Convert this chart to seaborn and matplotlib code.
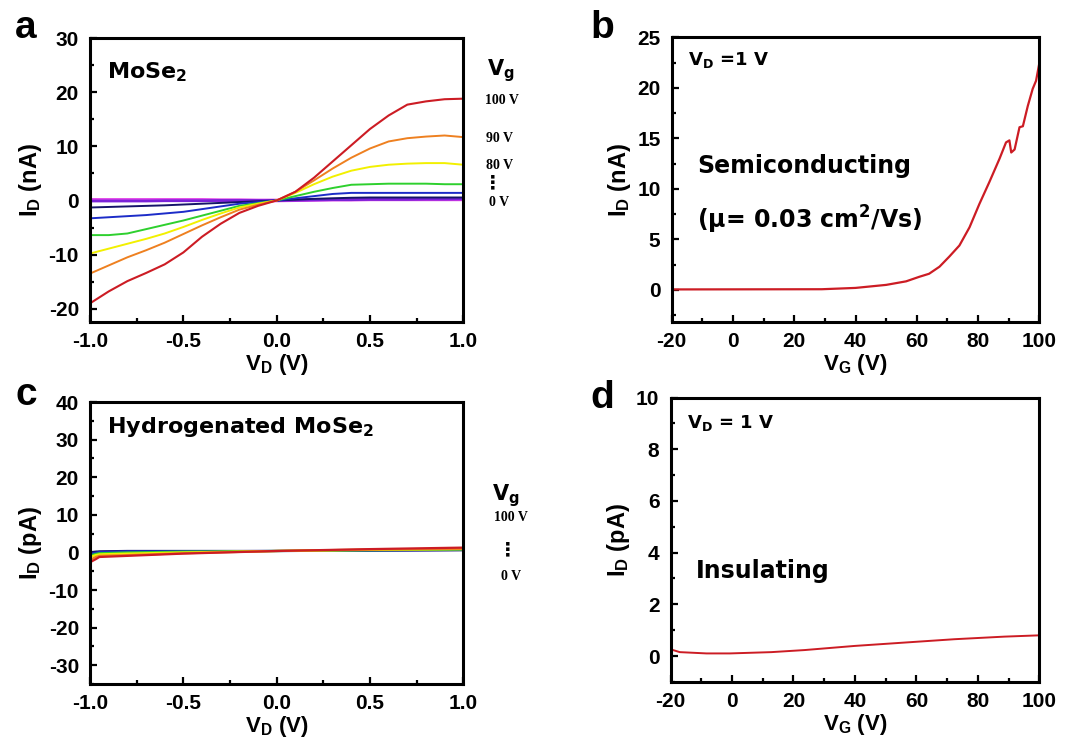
import matplotlib
matplotlib.use("Agg")
import matplotlib.pyplot as plt
from matplotlib.ticker import MultipleLocator
import seaborn as sns

# ---- data ----
# panel a: I-V curves of MoSe2 at several gate voltages (nA)
vd_a = [-1.0, -0.9, -0.8, -0.7, -0.6, -0.5, -0.4, -0.3, -0.2, -0.1, 0.0,
        0.1, 0.2, 0.3, 0.4, 0.5, 0.6, 0.7, 0.8, 0.9, 1.0]
id_a_magenta = [0.1, 0.1, 0.1, 0.1, 0.1, 0.1, 0.1, 0.05, 0.05, 0.0, 0.0,
                0.05, 0.1, 0.15, 0.15, 0.2, 0.2, 0.2, 0.2, 0.2, 0.2]
id_a_purple = [-0.1, -0.1, -0.1, -0.1, -0.05, -0.05, -0.05, 0.0, 0.0, 0.0, 0.0,
               0.05, 0.1, 0.15, 0.15, 0.2, 0.2, 0.2, 0.25, 0.25, 0.3]
id_a_navy = [-1.3, -1.2, -1.1, -1.0, -0.9, -0.75, -0.6, -0.45, -0.3, -0.15, 0.0,
             0.15, 0.3, 0.4, 0.5, 0.55, 0.55, 0.55, 0.55, 0.55, 0.55]
id_a_blue = [-3.3, -3.1, -2.9, -2.7, -2.4, -2.1, -1.6, -1.1, -0.6, -0.3, 0.0,
             0.4, 0.8, 1.2, 1.4, 1.4, 1.4, 1.4, 1.4, 1.4, 1.4]
id_a_green = [-6.4, -6.4, -6.1, -5.3, -4.5, -3.7, -2.8, -1.9, -1.0, -0.5, 0.0,
              0.8, 1.6, 2.3, 2.9, 3.0, 3.1, 3.1, 3.1, 3.0, 3.0]
id_a_yellow = [-9.8, -8.9, -8.0, -7.1, -6.1, -4.9, -3.6, -2.4, -1.3, -0.6, 0.0,
               1.4, 3.0, 4.4, 5.5, 6.2, 6.6, 6.8, 6.9, 6.9, 6.6]
id_a_orange = [-13.5, -12.0, -10.5, -9.2, -7.8, -6.2, -4.6, -3.1, -1.7, -0.8, 0.0,
               1.6, 3.7, 5.9, 7.9, 9.6, 10.9, 11.5, 11.8, 12.0, 11.7]
id_a_red = [-19.0, -16.8, -14.9, -13.4, -11.8, -9.6, -6.7, -4.3, -2.3, -1.0, 0.0,
            1.6, 4.2, 7.2, 10.2, 13.2, 15.7, 17.7, 18.3, 18.7, 18.8]

# panel b: transfer curve of MoSe2, V_D = 1 V (nA)
vg_b = [-20, 29, 40, 50, 56.5, 60.8, 64, 67.4, 70.6, 73.9, 77.2, 80.4, 83.7, 87,
        89.1, 90.2, 90.8, 91.9, 93.5, 94.6, 96.2, 97.8, 98.9, 100]
id_b = [0.05, 0.07, 0.2, 0.5, 0.85, 1.3, 1.6, 2.3, 3.3, 4.4, 6.2, 8.5, 10.7, 13.0,
        14.6, 14.8, 13.6, 13.9, 16.1, 16.2, 18.2, 19.9, 20.7, 22.5]

# panel c: I-V curves of hydrogenated MoSe2 (pA)
vd_c = [-1.0, -0.97, -0.95, -0.8, -0.5, 0.0, 0.5, 1.0]
id_c_navy = [0.0, 0.2, 0.3, 0.4, 0.4, 0.4, 0.5, 0.6]
id_c_blue = [-0.4, -0.1, 0.1, 0.3, 0.3, 0.4, 0.5, 0.7]
id_c_green = [-0.8, -0.4, -0.2, 0.0, 0.2, 0.4, 0.6, 0.8]
id_c_yellow = [-1.2, -0.7, -0.5, -0.3, 0.0, 0.4, 0.7, 0.9]
id_c_orange = [-2.0, -1.2, -0.9, -0.7, -0.2, 0.4, 0.8, 1.0]
id_c_red = [-2.6, -1.8, -1.2, -0.9, -0.3, 0.4, 0.9, 1.3]

# panel d: transfer curve of hydrogenated MoSe2 (pA)
vg_d = [-20, -17, -8.3, -0.7, 12.8, 23.6, 39.9, 56.1, 72.4, 88.6, 100]
id_d = [0.26, 0.15, 0.1, 0.1, 0.15, 0.23, 0.39, 0.52, 0.65, 0.75, 0.8]

colors = {"magenta": "#e03ce8", "purple": "#7a22d8", "navy": "#141468",
          "blue": "#1c2cc8", "green": "#2ed02e", "yellow": "#f2f000",
          "orange": "#ee8020", "red": "#cc1c24"}

sns.set_style("ticks")
plt.rcParams["font.family"] = ["Liberation Sans", "DejaVu Sans"]
plt.rcParams["font.weight"] = "bold"
plt.rcParams["mathtext.default"] = "regular"
plt.rcParams["axes.unicode_minus"] = False
for key in ["text.color", "axes.labelcolor", "xtick.color", "ytick.color",
            "axes.edgecolor"]:
    plt.rcParams[key] = "black"

fig = plt.figure(figsize=(10.85, 7.46), dpi=100)
ax_a = fig.add_axes([0.083, 0.568, 0.344, 0.381])
ax_b = fig.add_axes([0.619, 0.568, 0.339, 0.382])
ax_c = fig.add_axes([0.083, 0.083, 0.344, 0.378])
ax_d = fig.add_axes([0.618, 0.086, 0.340, 0.381])

curves_a = [("magenta", id_a_magenta, 2.6), ("purple", id_a_purple, 2.0),
            ("navy", id_a_navy, 1.4), ("blue", id_a_blue, 1.4),
            ("green", id_a_green, 1.4), ("yellow", id_a_yellow, 1.4),
            ("orange", id_a_orange, 1.4), ("red", id_a_red, 1.5)]
for name, vals, lw in curves_a:
    sns.lineplot(x=vd_a, y=vals, ax=ax_a, color=colors[name], lw=lw,
                 sort=False, errorbar=None)

sns.lineplot(x=vg_b, y=id_b, ax=ax_b, color=colors["red"], lw=1.6,
             sort=False, errorbar=None)

curves_c = [("navy", id_c_navy), ("blue", id_c_blue), ("green", id_c_green),
            ("yellow", id_c_yellow), ("orange", id_c_orange), ("red", id_c_red)]
for name, vals in curves_c:
    sns.lineplot(x=vd_c, y=vals, ax=ax_c, color=colors[name], lw=1.6,
                 sort=False, errorbar=None)

sns.lineplot(x=vg_d, y=id_d, ax=ax_d, color=colors["red"], lw=1.4,
             sort=False, errorbar=None)

# axes settings
settings = [
    (ax_a, (-1, 1), (-22.5, 30), 0.5, 0.25, 10, 5, "V$_D$ (V)", "I$_D$ (nA)"),
    (ax_b, (-20, 100), (-3.2, 25), 20, 10, 5, 2.5, "V$_G$ (V)", "I$_D$ (nA)"),
    (ax_c, (-1, 1), (-35, 40), 0.5, 0.25, 10, 5, "V$_D$ (V)", "I$_D$ (pA)"),
    (ax_d, (-20, 100), (-1, 10), 20, 10, 2, 1, "V$_G$ (V)", "I$_D$ (pA)"),
]
for ax, xl, yl, xmaj, xmin, ymaj, ymin, xlab, ylab in settings:
    ax.set_xlim(*xl)
    ax.set_ylim(*yl)
    ax.xaxis.set_major_locator(MultipleLocator(xmaj))
    ax.xaxis.set_minor_locator(MultipleLocator(xmin))
    ax.yaxis.set_major_locator(MultipleLocator(ymaj))
    ax.yaxis.set_minor_locator(MultipleLocator(ymin))
    if xmaj == 0.5:
        ax.set_xticks([-1, -0.5, 0, 0.5, 1])
        ax.set_xticklabels(["-1.0", "-0.5", "0.0", "0.5", "1.0"])
    ax.set_xlim(*xl)
    ax.set_ylim(*yl)
    ax.tick_params(which="both", direction="in", width=1.6, labelsize=15,
                   top=False, right=False)
    ax.tick_params(axis="x", which="major", length=5, pad=7)
    ax.tick_params(axis="y", which="major", length=5, pad=8)
    ax.tick_params(which="minor", length=3)
    for lab in ax.get_xticklabels() + ax.get_yticklabels():
        lab.set_fontweight("bold")
    for sp in ax.spines.values():
        sp.set_visible(True)
        sp.set_linewidth(2.2)
    ax.set_xlabel(xlab, fontsize=16, fontweight="bold", labelpad=1)
    ax.set_ylabel(ylab, fontsize=17, fontweight="bold", labelpad=3)

# annotations
ann = dict(fontweight="bold", family=["DejaVu Sans"], va="center", ha="left")
ax_a.text(0.046, 0.88, "MoSe$_2$", transform=ax_a.transAxes, fontsize=16, **ann)
ax_b.text(0.045, 0.92, "V$_D$ =1 V", transform=ax_b.transAxes, fontsize=13, **ann)
ax_b.text(0.07, 0.55, "Semiconducting", transform=ax_b.transAxes, fontsize=17, **ann)
ax_b.text(0.07, 0.36, "(\u03bc= 0.03 cm$^2$/Vs)", transform=ax_b.transAxes,
          fontsize=17, **ann)
ax_c.text(0.046, 0.91, "Hydrogenated MoSe$_2$", transform=ax_c.transAxes,
          fontsize=16, **ann)
ax_d.text(0.045, 0.91, "V$_D$ = 1 V", transform=ax_d.transAxes, fontsize=13, **ann)
ax_d.text(0.07, 0.39, "Insulating", transform=ax_d.transAxes, fontsize=17, **ann)

# gate voltage labels on the right of panels a and c
serif = dict(fontweight="bold", family=["Liberation Serif", "DejaVu Serif"],
             fontsize=10, va="center", ha="left")
dots = dict(fontsize=14, fontweight="bold", family=["DejaVu Sans"],
            ha="center", va="center")
ax_a.text(1.10, 0.887, "V$_g$", transform=ax_a.transAxes, fontsize=15,
          fontweight="bold", family=["DejaVu Sans"], ha="center", va="center")
ax_a.text(1.058, 0.78, "100 V", transform=ax_a.transAxes, **serif)
ax_a.text(1.06, 0.648, "90 V", transform=ax_a.transAxes, **serif)
ax_a.text(1.06, 0.553, "80 V", transform=ax_a.transAxes, **serif)
ax_a.text(1.078, 0.49, "\u22ee", transform=ax_a.transAxes, **dots)
ax_a.text(1.068, 0.42, "0 V", transform=ax_a.transAxes, **serif)

ax_c.text(1.115, 0.67, "V$_g$", transform=ax_c.transAxes, fontsize=15,
          fontweight="bold", family=["DejaVu Sans"], ha="center", va="center")
serif_c = dict(serif, ha="center")
ax_c.text(1.128, 0.59, "100 V", transform=ax_c.transAxes, **serif_c)
ax_c.text(1.118, 0.475, "\u22ee", transform=ax_c.transAxes, **dots)
ax_c.text(1.128, 0.38, "0 V", transform=ax_c.transAxes, **serif_c)

# panel letters
for x, y, letter in [(0.024, 0.962, "a"), (0.555, 0.962, "b"),
                     (0.024, 0.47, "c"), (0.555, 0.467, "d")]:
    fig.text(x, y, letter, fontsize=28, fontweight="bold", ha="center", va="center")

fig.savefig("out.png", dpi=100)
